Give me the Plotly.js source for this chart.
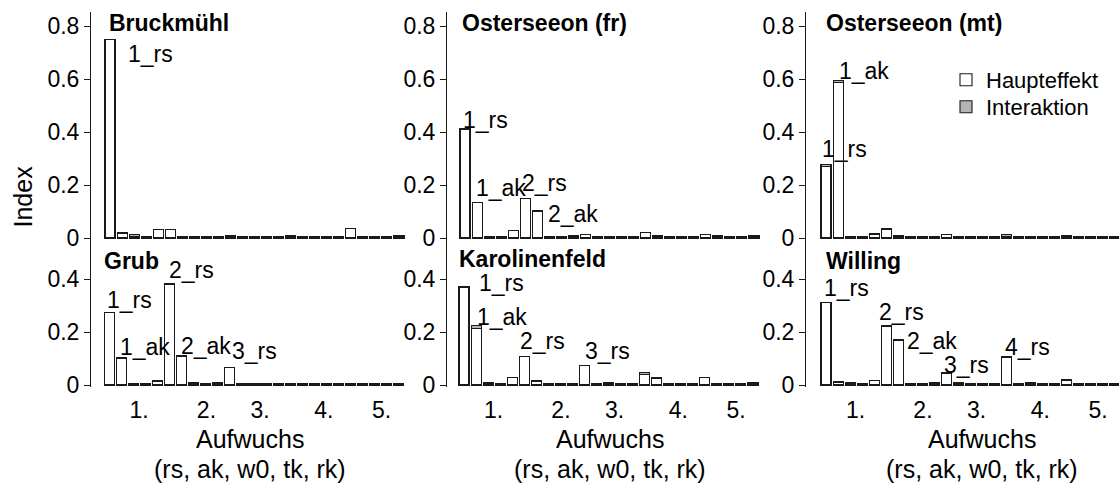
<!DOCTYPE html>
<html><head><meta charset="utf-8">
<script src="https://cdn.plot.ly/plotly-3.0.1.min.js"></script>
<style>html,body{margin:0;padding:0;background:#fff}#chart{width:1119px;height:489px}</style>
</head><body><div id="chart"></div>
<script>
// ---------- DATA ----------
const params = ['rs', 'ak', 'w0', 'tk', 'rk'];
const aufwuchsTicks = ['1.', '2.', '3.', '4.', '5.'];
const siteNames = ['Bruckmühl', 'Osterseeon (fr)', 'Osterseeon (mt)', 'Grub', 'Karolinenfeld', 'Willing'];
const seriesNames = ['Haupteffekt', 'Interaktion'];
const xTitleLines = ['Aufwuchs', '(rs, ak, w0, tk, rk)'];
const yTitle = 'Index';

const bruckmuehlMain  = [0.750,0.016,0.005,0.004,0.033, 0.033,0.004,0.004,0.004,0.004, 0.004,0.004,0.004,0.004,0.004, 0.004,0.004,0.004,0.004,0.004, 0.035,0.004,0.004,0.004,0.004];
const bruckmuehlInter = [0.000,0.003,0.007,0.000,0.000, 0.000,0.000,0.000,0.000,0.000, 0.004,0.000,0.000,0.000,0.000, 0.005,0.000,0.000,0.000,0.000, 0.000,0.000,0.000,0.000,0.004];
const ostFrMain  = [0.410,0.133,0.004,0.004,0.030, 0.148,0.101,0.004,0.004,0.004, 0.013,0.004,0.004,0.004,0.004, 0.020,0.004,0.004,0.004,0.004, 0.013,0.004,0.004,0.004,0.004];
const ostFrInter = [0.004,0.002,0.000,0.000,0.000, 0.002,0.002,0.000,0.000,0.004, 0.000,0.000,0.000,0.000,0.000, 0.000,0.007,0.000,0.000,0.000, 0.000,0.004,0.000,0.000,0.005];
const ostMtMain  = [0.270,0.588,0.004,0.004,0.013, 0.033,0.004,0.004,0.004,0.004, 0.013,0.004,0.004,0.004,0.004, 0.006,0.004,0.004,0.004,0.004, 0.004,0.004,0.004,0.004,0.004];
const ostMtInter = [0.008,0.008,0.000,0.000,0.005, 0.002,0.006,0.000,0.000,0.000, 0.000,0.000,0.000,0.000,0.000, 0.007,0.000,0.000,0.000,0.000, 0.005,0.000,0.000,0.000,0.000];
const grubMain  = [0.272,0.102,0.004,0.004,0.015, 0.380,0.109,0.004,0.004,0.004, 0.066,0.004,0.004,0.004,0.004, 0.004,0.004,0.004,0.004,0.004, 0.004,0.004,0.004,0.004,0.004];
const grubInter = [0.002,0.000,0.000,0.000,0.002, 0.002,0.002,0.004,0.000,0.005, 0.000,0.000,0.000,0.000,0.000, 0.000,0.000,0.000,0.000,0.000, 0.000,0.000,0.000,0.000,0.000];
const karoMain  = [0.368,0.214,0.005,0.004,0.027, 0.106,0.015,0.004,0.004,0.004, 0.075,0.004,0.004,0.004,0.004, 0.040,0.025,0.004,0.004,0.004, 0.027,0.004,0.004,0.004,0.004];
const karoInter = [0.002,0.011,0.005,0.003,0.002, 0.002,0.000,0.000,0.000,0.000, 0.000,0.000,0.004,0.000,0.000, 0.007,0.003,0.000,0.000,0.000, 0.000,0.000,0.000,0.000,0.004];
const willingMain  = [0.310,0.011,0.004,0.004,0.017, 0.222,0.170,0.004,0.004,0.004, 0.044,0.004,0.004,0.004,0.004, 0.105,0.004,0.004,0.004,0.004, 0.017,0.004,0.004,0.004,0.004];
const willingInter = [0.002,0.002,0.006,0.000,0.000, 0.002,0.002,0.000,0.000,0.004, 0.002,0.005,0.000,0.000,0.000, 0.002,0.000,0.004,0.000,0.000, 0.002,0.000,0.000,0.000,0.000];

const bruckmuehlLabels = ['1_rs'];
const ostFrLabels = ['1_rs', '1_ak', '2_rs', '2_ak'];
const ostMtLabels = ['1_rs', '1_ak'];
const grubLabels = ['1_rs', '1_ak', '2_rs', '2_ak', '3_rs'];
const karoLabels = ['1_rs', '1_ak', '2_rs', '3_rs'];
const willingLabels = ['1_rs', '2_rs', '2_ak', '3_rs', '4_rs'];

// ---------- LAYOUT / STYLE ----------
const W = 1119, H = 489, SLOT = 12.04, PPU = 265;
const FONT = 'Liberation Sans, Arial, sans-serif';
const INK = '#1a1a1a';
const panelData = [
  {main: bruckmuehlMain, inter: bruckmuehlInter, labels: bruckmuehlLabels},
  {main: ostFrMain, inter: ostFrInter, labels: ostFrLabels},
  {main: ostMtMain, inter: ostMtInter, labels: ostMtLabels},
  {main: grubMain, inter: grubInter, labels: grubLabels},
  {main: karoMain, inter: karoInter, labels: karoLabels},
  {main: willingMain, inter: willingInter, labels: willingLabels}
];
// pixel geometry of each panel
const geo = [
  {axis: 91,  bar0: 104,   top: 12,  bot: 273,   zero: 238, bottomRow: false},
  {axis: 447, bar0: 459,   top: 12,  bot: 273,   zero: 238, bottomRow: false},
  {axis: 806, bar0: 820,   top: 12,  bot: 273,   zero: 238, bottomRow: false},
  {axis: 91,  bar0: 103.5, top: 262, bot: 386.5, zero: 385, bottomRow: true},
  {axis: 447, bar0: 458,   top: 262, bot: 386.5, zero: 385, bottomRow: true},
  {axis: 806, bar0: 820,   top: 262, bot: 386.5, zero: 385, bottomRow: true}
];
// label offsets (px) relative to bar centre / bar top
const labelShift = [
  {'1_rs': [16, -15]},
  {'1_rs': [-4, 8], '1_ak': [-3, 14], '2_rs': [-5, 15], '2_ak': [9, -3]},
  {'1_rs': [-6, 15], '1_ak': [-1, 9]},
  {'1_rs': [-5, 12], '1_ak': [-4, 11], '2_rs': [-3, 14], '2_ak': [-3, 10], '3_rs': [0, 17]},
  {'1_rs': [13, 4], '1_ak': [-1, 8], '2_rs': [-6, 15], '3_rs': [-1, 14]},
  {'1_rs': [-4, 14], '2_rs': [-9, 14], '2_ak': [7, -2], '3_rs': [-4, 8], '4_rs': [-4, 10]}
];
const titlePos = [[107, 23], [460, 23], [824, 23], [102, 261], [457, 259], [824, 261]];
const xTitleCenter = [250, 610, 982];
const xTitleY = [439, 469];

const categories = [];
for (let g = 1; g <= 5; g++) params.forEach(p => categories.push(g + '_' + p));
const xIdx = categories.map((c, i) => i);

const traces = [];
const legendStyle = (yPx) => ({x: 946 / W, y: 1 - yPx / H, xanchor: 'left', yanchor: 'middle',
  bgcolor: 'rgba(0,0,0,0)', borderwidth: 0, font: {size: 22, family: FONT, color: '#000'}, itemwidth: 30});
const layout = {
  width: W, height: H, autosize: false,
  margin: {l: 0, r: 0, t: 0, b: 0},
  paper_bgcolor: '#ffffff', plot_bgcolor: 'rgba(0,0,0,0)',
  barmode: 'stack', bargap: 0.17,
  font: {family: FONT, color: '#000', size: 23},
  showlegend: true,
  legend: legendStyle(80),
  legend2: legendStyle(107),
  annotations: []
};

panelData.forEach((pd, k) => {
  const n = k + 1, sfx = n > 1 ? n : '';
  const g = geo[k];
  const center0 = g.bar0 + SLOT / 2;
  const rightPx = Math.min(W, g.bar0 + 25 * SLOT + 2);
  const xa = 'x' + sfx, ya = 'y' + sfx;
  traces.push({type: 'bar', x: xIdx, y: pd.main, xaxis: xa, yaxis: ya,
    name: seriesNames[0], legend: 'legend', showlegend: k === 0,
    marker: {color: '#ffffff', line: {color: INK, width: 1.1}}, hoverinfo: 'skip'});
  traces.push({type: 'bar', x: xIdx, y: pd.inter, xaxis: xa, yaxis: ya,
    name: seriesNames[1], legend: 'legend2', showlegend: k === 0,
    marker: {color: '#b4b4b4', line: {color: INK, width: 1.1}}, hoverinfo: 'skip'});

  layout['xaxis' + sfx] = {
    domain: [g.axis / W, rightPx / W], anchor: ya,
    range: [(g.axis - center0) / SLOT, (rightPx - center0) / SLOT],
    showline: false, showgrid: false, zeroline: false, ticks: '',
    showticklabels: g.bottomRow,
    tickmode: 'array', tickvals: [2.45, 8.05, 12.5, 17.8, 22.6], ticktext: aufwuchsTicks,
    ticklabelstandoff: 7,
    tickfont: {size: 23, family: FONT, color: '#000'}, fixedrange: true
  };
  const yTickVals = g.bottomRow ? [0, 0.2, 0.4] : [0, 0.2, 0.4, 0.6, 0.8];
  layout['yaxis' + sfx] = {
    domain: [1 - g.bot / H, 1 - g.top / H], anchor: xa,
    range: [(g.zero - g.bot) / PPU, (g.zero - g.top) / PPU],
    showline: true, linecolor: INK, linewidth: 1,
    showgrid: false, zeroline: false,
    ticks: 'outside', ticklen: 6, tickwidth: 1, tickcolor: INK,
    tickmode: 'array', tickvals: yTickVals, ticktext: yTickVals.map(v => v === 0 ? '0' : String(v)),
    tickfont: {size: 23, family: FONT, color: '#000'}, fixedrange: true
  };

  // site title
  layout.annotations.push({xref: 'paper', yref: 'paper', x: titlePos[k][0] / W, y: 1 - titlePos[k][1] / H,
    xanchor: 'left', yanchor: 'middle', showarrow: false, text: '<b>' + siteNames[k] + '</b>',
    font: {size: 23, family: FONT, color: '#000'}});

  // bar labels
  pd.labels.forEach(lbl => {
    const i = categories.indexOf(lbl);
    const s = labelShift[k][lbl] || [0, 10];
    layout.annotations.push({xref: xa, yref: ya, x: i, y: pd.main[i] + pd.inter[i],
      xanchor: 'left', yanchor: 'middle', showarrow: false, text: lbl,
      xshift: s[0], yshift: s[1], font: {size: 23, family: FONT, color: '#000'}});
  });

  if (g.bottomRow) {
    xTitleLines.forEach((t, j) => {
      layout.annotations.push({xref: 'paper', yref: 'paper', x: xTitleCenter[k - 3] / W, y: 1 - xTitleY[j] / H,
        xanchor: 'center', yanchor: 'middle', showarrow: false, borderpad: 0,
        text: t, font: {size: 25, family: FONT, color: '#000'}});
    });
  }
});

layout.annotations.push({xref: 'paper', yref: 'paper', x: 22.5 / W, y: 1 - 197 / H,
  xanchor: 'center', yanchor: 'middle', showarrow: false, textangle: -90,
  text: yTitle, font: {size: 25, family: FONT, color: '#000'}});

Plotly.newPlot('chart', traces, layout, {staticPlot: true, displayModeBar: false});
</script>
</body></html>
